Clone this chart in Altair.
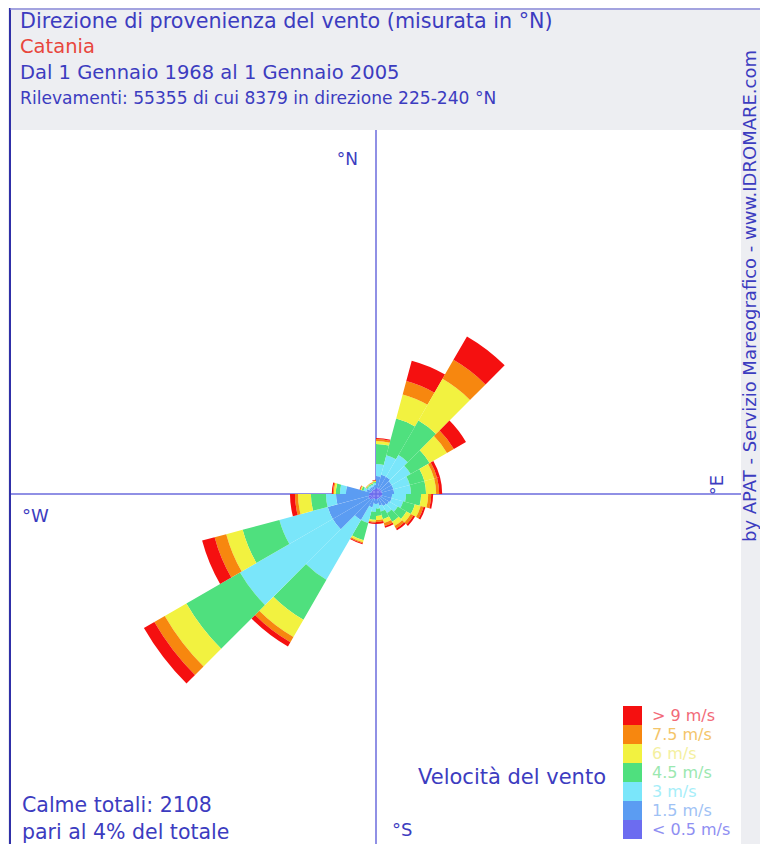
import math
import altair as alt
import pandas as pd

# ---------------- data ----------------
settori = list(range(0, 360, 15))  # sector start (deg from N, clockwise)

classi = ["< 0.5 m/s", "1.5 m/s", "3 m/s", "4.5 m/s", "6 m/s", "7.5 m/s", "> 9 m/s"]
colori = ["#6c6cf0", "#5b9cf2", "#7ae6fa", "#4fe07e", "#f2f240", "#f7870f", "#f51010"]
colori_etichette = ["#8f8ff2", "#9fc2f5", "#a6eef9", "#9be8b0", "#f4f0a0", "#f4c56a", "#f26a78"]

# frequency (% of observations) per sector and speed class
f_05 = [0.34, 0.34, 0.34, 0.34, 0.34, 0.34, 0.34, 0.34, 0.28, 0.28, 0.28, 0.28,
        0.28, 0.28, 0.34, 0.45, 0.45, 0.40, 0.34, 0.28, 0.28, 0.28, 0.28, 0.28]
f_15 = [0.68, 0.79, 0.79, 0.68, 0.68, 0.68, 0.57, 0.57, 0.57, 0.51, 0.40, 0.28,
        0.28, 0.51, 1.36, 2.37, 2.37, 1.86, 1.36, 0.28, 0.17, 0.17, 0.17, 0.23]
f_3 = [0.68, 1.13, 1.41, 1.24, 0.96, 0.96, 0.79, 0.68, 0.57, 0.45, 0.34, 0.28,
       0.45, 0.90, 3.90, 6.05, 2.83, 0.57, 0.34, 0.17, 0.11, 0.11, 0.11, 0.11]
f_45 = [1.13, 2.15, 2.26, 1.24, 0.85, 0.85, 0.85, 0.68, 0.57, 0.57, 0.45, 0.40,
        0.45, 1.02, 2.60, 3.50, 2.15, 0.85, 0.23, 0.11, 0.06, 0.06, 0.06, 0.06]
f_6 = [0.17, 1.41, 2.71, 1.13, 0.57, 0.57, 0.40, 0.34, 0.28, 0.28, 0.23, 0.23,
       0.11, 0.11, 1.13, 1.41, 0.96, 0.73, 0.11, 0.06, 0.03, 0.03, 0.03, 0.06]
f_75 = [0.11, 0.79, 1.24, 0.45, 0.17, 0.17, 0.17, 0.17, 0.17, 0.17, 0.17, 0.11,
        0.06, 0.06, 0.34, 0.68, 0.68, 0.17, 0.06, 0.03, 0.03, 0.03, 0.03, 0.03]
f_9 = [0.06, 1.19, 1.53, 0.79, 0.17, 0.17, 0.11, 0.11, 0.11, 0.11, 0.11, 0.11,
       0.06, 0.06, 0.28, 0.68, 0.73, 0.28, 0.06, 0.03, 0.00, 0.00, 0.00, 0.03]

serie = [f_05, f_15, f_3, f_45, f_6, f_75, f_9]

righe = []
for i, s in enumerate(settori):
    cum = 0.0
    for k, cl in enumerate(classi):
        v = serie[k][i]
        righe.append({"t0": s, "t1": s + 15, "r0": cum, "r1": cum + v,
                      "classe": cl, "cx": 0, "cy": 0})
        cum += v
df = pd.DataFrame(righe)
rmax = max(sum(serie[k][i] for k in range(7)) for i in range(len(settori)))

# ---------------- layout ----------------
FONT = "DejaVu Sans"
BLU = "#3c3cc0"
W, H = 730, 714

xs = alt.Scale(domain=[-365, 365], nice=False, zero=False)
ys = alt.Scale(domain=[-350, 364], nice=False, zero=False)

ordine_leg = classi[::-1]
colori_leg = colori[::-1]
etich_leg = colori_etichette[::-1]
expr_col = "[" + ",".join("'%s'" % c for c in etich_leg) + "][indexof([" + \
    ",".join("'%s'" % c for c in ordine_leg) + "], datum.label)]"

one = pd.DataFrame({"cx": [0], "cy": [0]})

sfondo = alt.Chart(one).mark_rect(color="white").encode(
    x=alt.value(0), x2=alt.value(W), y=alt.value(0), y2=alt.value(H))

rosa = alt.Chart(df).mark_arc(stroke=None, padAngle=0).encode(
    x=alt.X("cx:Q", scale=xs, axis=None),
    y=alt.Y("cy:Q", scale=ys, axis=None),
    theta=alt.Theta("t0:Q", stack=None,
                    scale=alt.Scale(domain=[0, 360], range=[0, 2 * math.pi])),
    theta2="t1:Q",
    radius=alt.Radius("r0:Q", stack=None,
                      scale=alt.Scale(type="linear", domain=[0, rmax], range=[0, 268],
                                      zero=True, nice=False)),
    radius2="r1:Q",
    color=alt.Color("classe:N",
                    scale=alt.Scale(domain=ordine_leg, range=colori_leg),
                    legend=alt.Legend(title=None, orient="none", legendX=612, legendY=576,
                                      symbolType="square", symbolSize=361,
                                      symbolStrokeWidth=0, symbolOpacity=1,
                                      rowPadding=0, labelOffset=10,
                                      labelFont=FONT, labelFontSize=16,
                                      labelColor=alt.ExprRef(expr=expr_col))),
)

asse_v = alt.Chart(one).mark_rule(color="#6b6bdd", strokeWidth=1.5).encode(
    x=alt.X("cx:Q", scale=xs, axis=None))
asse_h = alt.Chart(one).mark_rule(color="#6b6bdd", strokeWidth=1.5).encode(
    y=alt.Y("cy:Q", scale=ys, axis=None))

bordo_sx = alt.Chart(one).mark_rule(color="#3030a8", strokeWidth=2).encode(
    x=alt.value(-1), y=alt.value(-122), y2=alt.value(H))
bordo_su = alt.Chart(one).mark_rule(color="#8a8ad8", strokeWidth=1.5).encode(
    x=alt.value(-1), x2=alt.value(W + 30), y=alt.value(-121))


def testo(s, x, y, size=20, color=BLU, align="left", angle=0):
    return alt.Chart(pd.DataFrame({"t": [s]})).mark_text(
        x=x, y=y, align=align, baseline="middle", angle=angle,
        font=FONT, fontSize=size, color=color
    ).encode(text="t:N")


testi = [
    testo("Direzione di provenienza del vento (misurata in °N)", 9, -108, 20.7),
    testo("Catania", 9, -83, 19.5, color="#e8463c"),
    testo("Dal 1 Gennaio 1968 al 1 Gennaio 2005", 9, -57, 19.5),
    testo("Rilevamenti: 55355 di cui 8379 in direzione 225-240 °N", 9, -31, 17.1),
    testo("°N", 347, 30, 17, align="right"),
    testo("°W", 11, 387, 18),
    testo("°S", 381, 701, 18),
    testo("°E", 707, 355, 18, align="center", angle=270),
    testo("Calme totali: 2108", 11, 676, 20.5),
    testo("pari al 4% del totale", 11, 703, 20.5),
    testo("Velocità del vento", 595, 648, 21, align="right"),
    testo("by APAT - Servizio Mareografico - www.IDROMARE.com", 739.5, 166, 18,
          align="center", angle=270),
]

chart = alt.layer(sfondo, asse_v, asse_h, rosa, bordo_sx, bordo_su, *testi).properties(
    width=W, height=H,
    padding={"left": 3, "top": 122, "right": 19, "bottom": 0},
    autosize=alt.AutoSizeParams(type="none"),
    background="#edeef2",
).configure_view(stroke=None)

chart.save("out.html", embed_options={"renderer": "svg", "actions": False})
